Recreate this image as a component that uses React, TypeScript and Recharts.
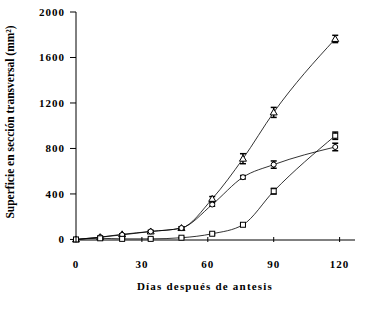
import { LineChart, Line, XAxis, YAxis, ErrorBar } from 'recharts'

// días después de antesis
const days = [0, 11, 21, 34, 48, 62, 76, 90, 118]

// superficie (mm2) por serie, con error estándar
const triangleVals = [0, 20, 45, 70, 100, 357, 710, 1117, 1763]
const triangleErr = [5, 5, 5, 10, 10, 20, 44, 44, 32]
const circleVals = [0, 20, 40, 70, 100, 307, 547, 658, 813]
const circleErr = [5, 5, 5, 5, 10, 15, 15, 32, 33]
const squareVals = [0, 10, 5, 5, 15, 50, 129, 424, 912]
const squareErr = [5, 5, 5, 5, 5, 10, 10, 25, 32]

const xTicks = [0, 30, 60, 90, 120]
const yTicks = [0, 400, 800, 1200, 1600, 2000]

const data = days.map((d, i) => ({
    day: d,
    tri: triangleVals[i],
    triErr: triangleErr[i],
    cir: circleVals[i],
    cirErr: circleErr[i],
    sq: squareVals[i],
    sqErr: squareErr[i],
}))

const font = {
    fontFamily: '"Liberation Serif", "Times New Roman", serif',
    fontWeight: 700,
    fontSize: 11,
    fill: '#000',
}

const TriangleDot = (props: any) => {
    const { cx, cy } = props
    if (cx == null || cy == null) return null
    return (
        <polygon
            points={`${cx},${cy - 3.5} ${cx - 3.5},${cy + 2.5} ${cx + 3.5},${cy + 2.5}`}
            fill="#fff"
            stroke="#000"
            strokeWidth={1}
        />
    )
}

const CircleDot = (props: any) => {
    const { cx, cy } = props
    if (cx == null || cy == null) return null
    return <circle cx={cx} cy={cy} r={2.5} fill="#fff" stroke="#000" strokeWidth={1} />
}

const SquareDot = (props: any) => {
    const { cx, cy } = props
    if (cx == null || cy == null) return null
    return (
        <rect x={cx - 2.5} y={cy - 2.5} width={5} height={5} fill="#fff" stroke="#000" strokeWidth={1} />
    )
}

const XTick = (props: any) => {
    const { x, y, payload } = props
    return (
        <g>
            <line x1={x} x2={x} y1={y} y2={y - 5} stroke="#000" />
            <text x={x} y={y + 26} textAnchor="middle" letterSpacing={1} {...font}>
                {payload.value}
            </text>
        </g>
    )
}

const XTitle = () => (
    <text x={205} y={290} textAnchor="middle" letterSpacing={1.2} {...font}>
        Días después de antesis
    </text>
)

const YTitle = () => (
    <text
        x={14}
        y={122}
        textAnchor="middle"
        transform="rotate(-90 14 122)"
        {...font}
        fontSize={11.5}
    >
        Superficie en sección transversal (mm²)
    </text>
)

export default function App() {
    return (
        <div style={{ position: 'absolute', left: 0, top: 0, background: '#fff' }}>
            <LineChart
                width={385}
                height={313}
                data={data}
                margin={{ top: 12, right: 30, bottom: 43, left: 0 }}
            >
                <XAxis
                    dataKey="day"
                    type="number"
                    domain={[0, 127]}
                    ticks={xTicks}
                    tickSize={0}
                    tickLine={false}
                    tick={<XTick />}
                    axisLine={{ stroke: '#000' }}
                    height={30}
                    label={<XTitle />}
                />
                <YAxis
                    type="number"
                    domain={[0, 2000]}
                    ticks={yTicks}
                    width={76}
                    tickSize={6}
                    tickMargin={5}
                    tickLine={{ stroke: '#000' }}
                    axisLine={{ stroke: '#000' }}
                    tick={{ ...font, letterSpacing: 1 }}
                    label={<YTitle />}
                />
                <Line
                    type="monotone"
                    dataKey="tri"
                    stroke="#000"
                    strokeWidth={0.8}
                    dot={<TriangleDot />}
                    isAnimationActive={false}
                >
                    <ErrorBar dataKey="triErr" width={3} stroke="#000" direction="y" />
                </Line>
                <Line
                    type="monotone"
                    dataKey="cir"
                    stroke="#000"
                    strokeWidth={0.8}
                    dot={<CircleDot />}
                    isAnimationActive={false}
                >
                    <ErrorBar dataKey="cirErr" width={3} stroke="#000" direction="y" />
                </Line>
                <Line
                    type="monotone"
                    dataKey="sq"
                    stroke="#000"
                    strokeWidth={0.8}
                    dot={<SquareDot />}
                    isAnimationActive={false}
                >
                    <ErrorBar dataKey="sqErr" width={3} stroke="#000" direction="y" />
                </Line>
            </LineChart>
        </div>
    )
}
